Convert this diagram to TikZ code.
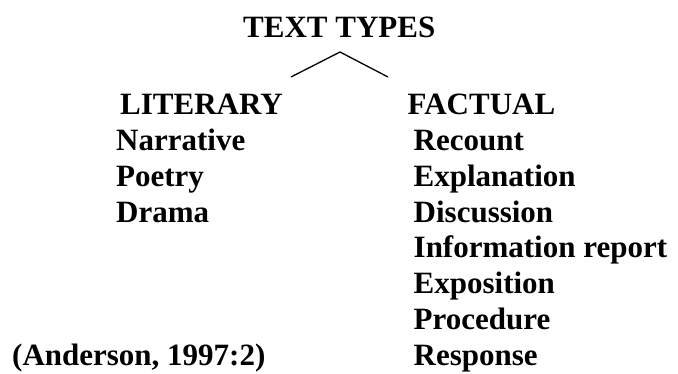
\documentclass[tikz,border=0pt]{standalone}
\usepackage{fontspec}
\setmainfont{Liberation Serif}
\begin{document}
\begin{tikzpicture}[x=1pt, y=-1pt,
    font=\fontsize{31}{33}\selectfont\bfseries,
    txt/.style={anchor=base west, inner sep=0pt}]
  \useasboundingbox (0,0) rectangle (678,374);
  % heading
  \node[txt] (title) at (243,38) {TEXT TYPES};
  \coordinate (apex) at (340,52);
  \coordinate (lend) at (291,77);
  \coordinate (rend) at (388,77);
  \draw[line width=1.3pt] (lend) -- (apex) -- (rend);
  % the two kinds
  \node[txt] (lit) at (120,115) {LITERARY};
  \node[txt] (fact) at (407.5,115) {FACTUAL};
  % literary types
  \node[txt] (narr) at (116,151) {Narrative};
  \node[txt] (poet) at (116,187) {Poetry};
  \node[txt] (dram) at (116,223) {Drama};
  % factual types
  \node[txt] (reco) at (413.5,151) {Recount};
  \node[txt] (expl) at (413.5,187) {Explanation};
  \node[txt] (disc) at (413.5,223) {Discussion};
  \node[txt] (info) at (413.5,258) {Information report};
  \node[txt] (expo) at (413.5,294) {Exposition};
  \node[txt] (proc) at (413.5,330) {Procedure};
  \node[txt] (resp) at (413.5,366) {Response};
  % source
  \node[txt] (src) at (12,366) {(Anderson, 1997:2)};
\end{tikzpicture}
\end{document}
